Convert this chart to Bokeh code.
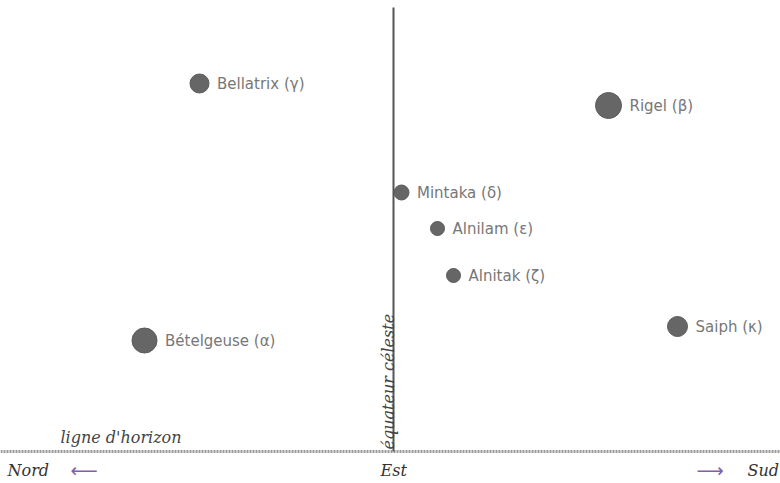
from bokeh.plotting import figure
from bokeh.models import Range1d, ColumnDataSource
from bokeh.core.properties import value
from bokeh.embed import file_html
from bokeh.resources import INLINE
import math

# Stars of Orion: horizontal position (eastward scale) and altitude above horizon
star_names = ["Bételgeuse (α)", "Bellatrix (γ)", "Mintaka (δ)", "Alnilam (ε)",
              "Alnitak (ζ)", "Saiph (κ)", "Rigel (β)"]
star_x = [144, 199, 401, 437, 453, 677, 608]
star_alt = [111, 368, 259, 223, 176, 125, 346]
star_size = [25, 19, 15, 14, 14, 20, 26]

horizon_x = [0, 780]
equator_x = 393
equator_top = 444

direction_labels = ["Nord", "Est", "Sud"]
direction_x = [7, 380, 747]

p = figure(width=780, height=483, output_backend="svg", toolbar_location=None,
           x_range=Range1d(0, 780), y_range=Range1d(-32, 451),
           min_border=0, outline_line_color=None)
p.axis.visible = False
p.grid.visible = False

# horizon
p.line(horizon_x, [0, 0], line_color="#999999", line_width=3, line_dash="2 1")
# celestial equator
p.line([equator_x, equator_x], [0, equator_top], line_color="#555555", line_width=2)

src = ColumnDataSource(dict(x=star_x, y=star_alt, s=star_size, name=star_names,
                            lx=[xx + ss / 2 + 8 for xx, ss in zip(star_x, star_size)]))
p.scatter("x", "y", size="s", source=src, fill_color="#666666", line_color="#5a5a5a")
p.text("lx", "y", text="name", source=src, text_font=value("DejaVu Sans"),
       text_font_size="15px", text_color="#777777", text_baseline="middle")

# directions
p.text(direction_x, [-19] * 3, text=direction_labels, text_font=value("DejaVu Serif"),
       text_font_style="italic", text_font_size="16px", text_color="#333333",
       text_baseline="middle")
p.text([70, 696], [-18, -18], text=["⟵", "⟶"], text_font=value("DejaVu Sans"),
       text_font_size="19px", text_color="#8060a8", text_baseline="middle")

p.text([60], [14], text=["ligne d'horizon"], text_font=value("DejaVu Serif"),
       text_font_style="italic", text_font_size="16px", text_color="#444444",
       text_baseline="middle")
p.text([388], [2], text=["équateur céleste"], angle=math.pi / 2,
       text_font=value("DejaVu Serif"), text_font_style="italic",
       text_font_size="16px", text_color="#444444", text_baseline="alphabetic")

open("out.html", "w").write(file_html(p, INLINE))
